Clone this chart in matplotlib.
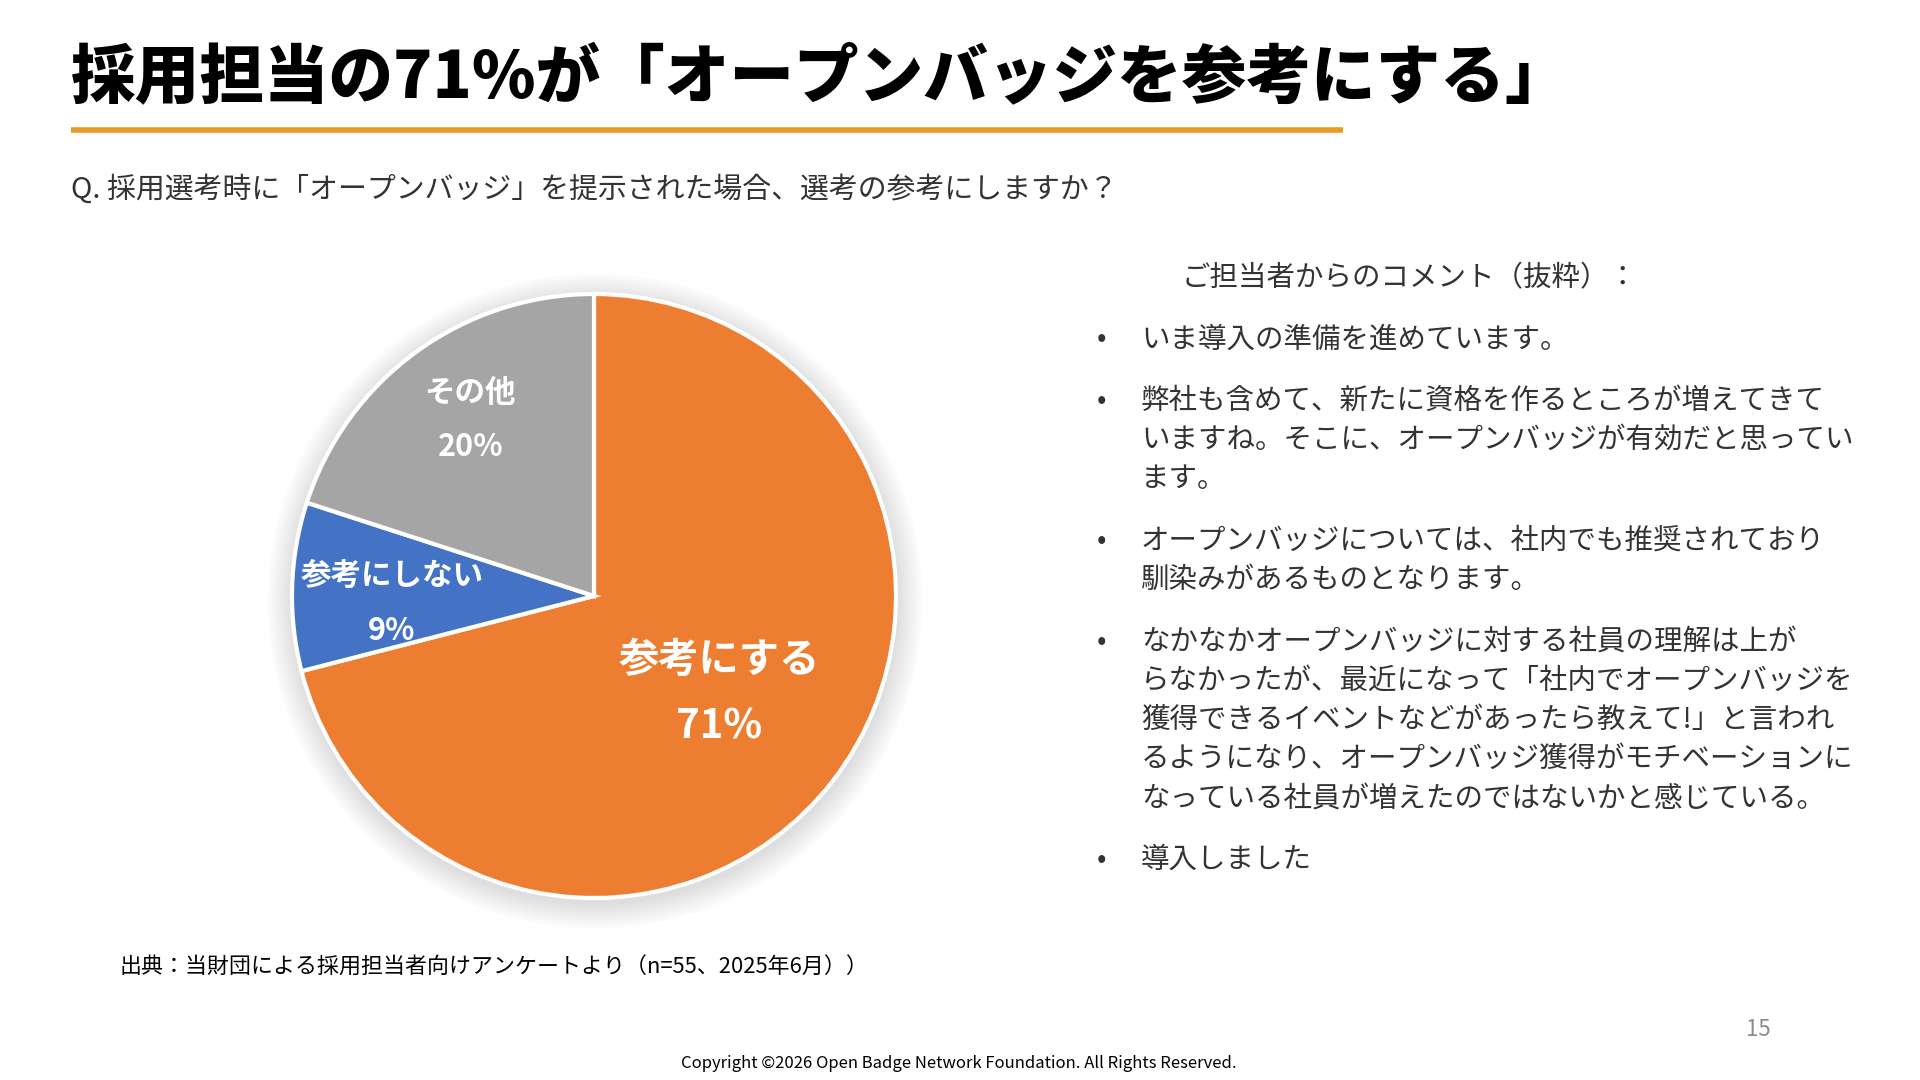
import matplotlib
matplotlib.use("Agg")
import matplotlib.pyplot as plt
from matplotlib.patches import Circle
import numpy as np

plt.rcParams['font.family'] = ['Noto Sans CJK JP', 'DejaVu Sans']

# データ
categories = ["参考にする", "参考にしない", "その他"]
values = [71, 9, 20]
pct_labels = ["71%", "9%", "20%"]
colors = ["#ED7D31", "#4472C4", "#A5A5A5"]

title = "採用担当の71%が「オープンバッジを参考にする」"
question = "Q. 採用選考時に「オープンバッジ」を提示された場合、選考の参考にしますか？"
comment_head = "ご担当者からのコメント（抜粋）："
comments = [
    ["いま導入の準備を進めています。"],
    ["弊社も含めて、新たに資格を作るところが増えてきて",
     "いますね。そこに、オープンバッジが有効だと思ってい",
     "ます。"],
    ["オープンバッジについては、社内でも推奨されており",
     "馴染みがあるものとなります。"],
    ["なかなかオープンバッジに対する社員の理解は上が",
     "らなかったが、最近になって「社内でオープンバッジを",
     "獲得できるイベントなどがあったら教えて!」と言われ",
     "るようになり、オープンバッジ獲得がモチベーションに",
     "なっている社員が増えたのではないかと感じている。"],
    ["導入しました"],
]
source = "出典：当財団による採用担当者向けアンケートより（n=55、2025年6月））"
copyright_txt = "Copyright ©2026 Open Badge Network Foundation. All Rights Reserved."
page_no = "15"

W, H = 1920, 1080
fig = plt.figure(figsize=(19.2, 10.8), dpi=100)
ax = fig.add_axes([0, 0, 1, 1])

def Y(y):  # 上からのピクセル -> 下から
    return H - y

# タイトルと下線
ax.text(71, Y(79), title, fontsize=46.5, fontweight='heavy', color='black',
        ha='left', va='center')
ax.plot([71, 1343], [Y(130), Y(130)], color='#E69B22', lw=4, solid_capstyle='butt')
ax.text(71, Y(190), question, fontsize=20.8, color='#333333', ha='left', va='center')

# 円グラフ
cx, cy, r = 594, Y(596), 302
for k in range(16, 0, -1):
    ax.add_patch(Circle((cx + 1, cy - 5), r + k * 1.6, color='#a8a8a8',
                        alpha=0.022, lw=0, zorder=0))
wedges, _ = ax.pie(values, colors=colors, startangle=90, counterclock=False,
                   center=(cx, cy), radius=r,
                   wedgeprops=dict(edgecolor='white', linewidth=3))
for w in wedges:
    w.set_zorder(2)

label_dist = [0.52, 0.67, 0.72]
angle_adj = [0.8, 3.2, -1.3]
name_size = [29, 22, 22]
pct_size = [29, 22, 22]
gap = [33, 27, 27]
for w, name, pct, d, da, ns, ps, g in zip(wedges, categories, pct_labels, label_dist,
                                          angle_adj, name_size, pct_size, gap):
    ang = np.deg2rad((w.theta1 + w.theta2) / 2 + da)
    lx = cx + d * r * np.cos(ang)
    ly = cy + d * r * np.sin(ang) - 3
    ax.text(lx, ly + g, name, fontsize=ns, fontweight='bold', color='white',
            ha='center', va='center', zorder=3)
    ax.text(lx, ly - g, pct, fontsize=ps, fontweight='bold', color='white',
            ha='center', va='center', zorder=3)

# コメント
ax.text(1182, Y(278), comment_head, fontsize=20.5, color='#333333',
        ha='left', va='center')
line_h = 39.2
block_gap = 61.5
y = 339.5
for block in comments:
    ax.text(1102, Y(y), "•", fontsize=20, color='#333333', ha='center', va='center')
    for i, line in enumerate(block):
        ax.text(1141, Y(y + i * line_h), line, fontsize=20.5, color='#333333',
                ha='left', va='center')
    y += (len(block) - 1) * line_h + block_gap

# 出典・フッター
ax.text(120, Y(968), source, fontsize=15.8, color='black', ha='left', va='center')
ax.text(1758, Y(1030), page_no, fontsize=16, color='#8C8C8C', ha='center', va='center')
ax.text(959, Y(1064), copyright_txt, fontsize=12, color='black',
        ha='center', va='center')

ax.set_xlim(0, W)
ax.set_ylim(0, H)
ax.set_aspect('equal')
ax.axis('off')

fig.savefig("out.png", dpi=100, facecolor='white')
